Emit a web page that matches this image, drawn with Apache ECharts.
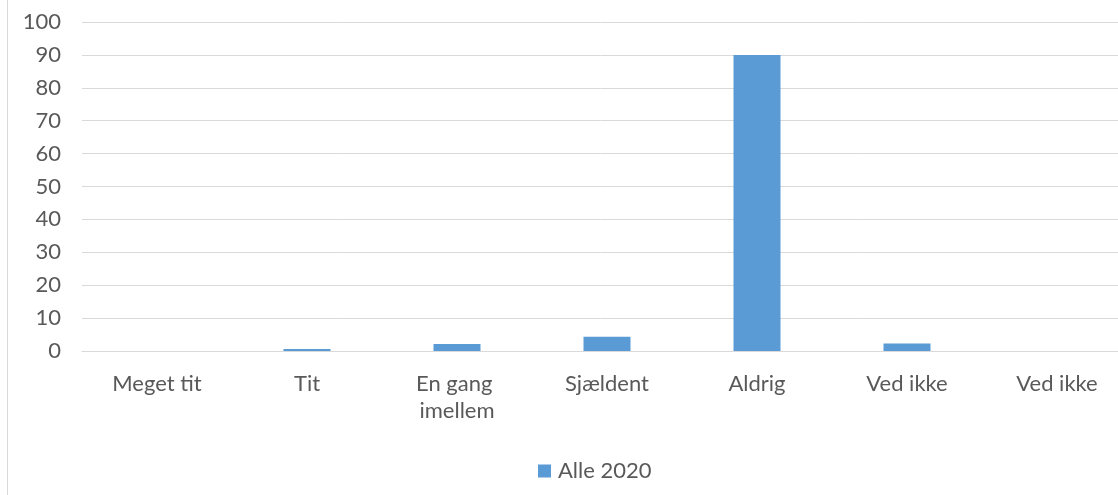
<!DOCTYPE html>
<html>
<head>
<meta charset="utf-8">
<script src="https://cdn.jsdelivr.net/npm/echarts@6/dist/echarts.min.js"></script>
<style>
  html, body { margin: 0; padding: 0; background: #fff; }
  #chart { width: 1118px; height: 495px; }
</style>
</head>
<body>
<div id="chart"></div>
<script>
// Survey answers: how often (share of respondents, %)
const categories = ['Meget tit', 'Tit', 'En gang imellem', 'Sjældent', 'Aldrig', 'Ved ikke', 'Ved ikke'];
const seriesName = 'Alle 2020';
const values = [0, 0.6, 2.1, 4.3, 90, 2.3, 0];
const yTicks = { min: 0, max: 100, interval: 10 };

const textColor = '#595959';
const gridColor = '#d9d9d9';
const font = 'Lato, "Open Sans", sans-serif';

const chart = echarts.init(document.getElementById('chart'), null, { renderer: 'canvas' });
chart.setOption({
  animation: false,
  grid: { left: 82, right: -14, top: 22, bottom: 144, containLabel: false, outerBoundsMode: 'none' },
  legend: {
    data: [seriesName],
    left: 533,
    top: 455,
    icon: 'rect',
    itemWidth: 13,
    itemHeight: 13,
    textStyle: { color: textColor, fontSize: 22, fontFamily: font, padding: [0, 0, 0, 2] }
  },
  xAxis: {
    type: 'category',
    data: categories,
    axisLine: { show: true, lineStyle: { color: gridColor, width: 1 } },
    axisTick: { show: false },
    axisLabel: {
      interval: 0,
      color: textColor,
      fontSize: 22,
      fontFamily: font,
      margin: 19,
      lineHeight: 27,
      width: 120,
      overflow: 'break'
    }
  },
  yAxis: {
    type: 'value',
    min: yTicks.min,
    max: yTicks.max,
    interval: yTicks.interval,
    axisLine: { show: false },
    axisTick: { show: false },
    splitLine: { lineStyle: { color: gridColor, width: 1 } },
    axisLabel: { color: textColor, fontSize: 22, fontFamily: font, margin: 21 }
  },
  series: [{
    name: seriesName,
    type: 'bar',
    data: values,
    barWidth: 47,
    itemStyle: { color: '#5b9bd5' }
  }],
  graphic: [{
    type: 'line',
    shape: { x1: 7.5, y1: 0, x2: 7.5, y2: 495 },
    style: { stroke: '#d9d9d9', lineWidth: 1 }
  }]
});
</script>
</body>
</html>
